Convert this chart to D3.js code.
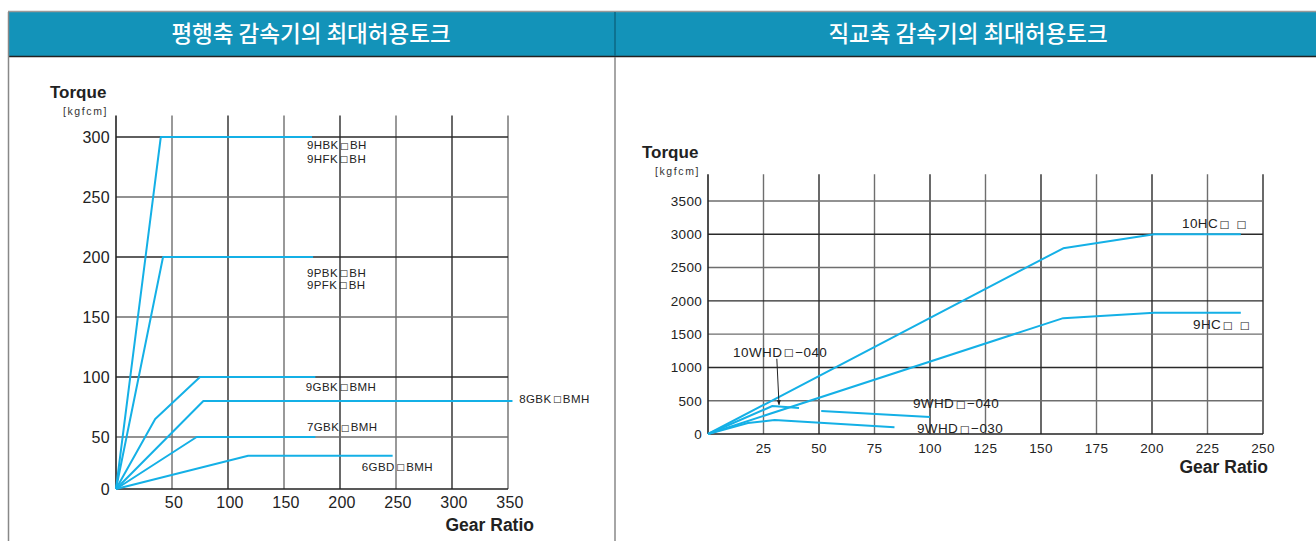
<!DOCTYPE html>
<html>
<head>
<meta charset="utf-8">
<script src="https://cdn.jsdelivr.net/npm/d3@7"></script>
<style>
    body { margin: 0; background: #fff; }
    svg { display: block; font-family: "Liberation Sans", Arial, sans-serif; }
</style>
</head>
<body>
<svg class="chart"></svg>
<script>
const width = 1316,
    height = 541;

//Titles
const titles = ["평행축 감속기의 최대허용토크", "직교축 감속기의 최대허용토크"];

//Parallel shaft: ticks
const leftXTicks = [50, 100, 150, 200, 250, 300, 350];
const leftYTicks = [0, 50, 100, 150, 200, 250, 300];

//Parallel shaft: series [gear ratio, torque]
const s9HBK = [[0, 0], [40, 300], [175, 300]];
const s9PBK = [[0, 0], [42, 200], [176, 200]];
const s9GBK = [[0, 0], [35, 65], [75, 100], [178, 100]];
const s8GBK = [[0, 0], [78, 80], [354, 80]];
const s7GBK = [[0, 0], [72, 50], [178, 50]];
const s6GBD = [[0, 0], [118, 32], [247, 32]];

//Parallel shaft: labels [gear ratio, torque, text]
const leftLabels = [
    [170.5, 290, "9HBK□BH"],
    [170.5, 278.5, "9HFK□BH"],
    [170.5, 183.5, "9PBK□BH"],
    [170.5, 173.5, "9PFK□BH"],
    [169.5, 88.5, "9GBK□BMH"],
    [360, 78.5, "8GBK□BMH"],
    [170.5, 55, "7GBK□BMH"],
    [219.5, 17.5, "6GBD□BMH"],
];

//Right angle: ticks
const rightXTicks = [25, 50, 75, 100, 125, 150, 175, 200, 225, 250];
const rightYTicks = [0, 500, 1000, 1500, 2000, 2500, 3000, 3500];

//Right angle: series
const s10HC = [[0, 0], [160, 2790], [201, 3000], [240, 3000]];
const s9HC = [[0, 0], [160, 1740], [201, 1820], [240, 1820]];
const s10WHD040 = [[0, 0], [29, 420], [41, 390]];
const s9WHD040 = [[51, 345], [100, 255]];
const s9WHD030 = [[0, 0], [18, 165], [30, 210], [84, 100]];

const rightLabels = [
    [213.5, 3094, "10HC□ □"],
    [218.5, 1577, "9HC□ □"],
    [11.3, 1157, "10WHD□−040"],
    [92.3, 390, "9WHD□−040"],
    [94.1, 15, "9WHD□−030"],
];

//arrow for 10WHD label [from, to]
const arrow10WHD = [[31, 1130], [32, 440]];

const lineColor = "#14b0e6";
const headerColor = "#1393b9";

const svg = d3.select(".chart").attr("width", width).attr("height", height);

svg.append("defs")
    .append("marker")
    .attr("id", "arrowHead")
    .attr("viewBox", "0 0 10 10")
    .attr("refX", 9)
    .attr("refY", 5)
    .attr("markerWidth", 5)
    .attr("markerHeight", 6)
    .attr("orient", "auto")
    .append("path")
    .attr("d", "M0,1 L10,5 L0,9 Z")
    .attr("fill", "#222");

//Frame & headers
svg.append("rect")
    .attr("x", 8).attr("y", 12)
    .attr("width", width - 8).attr("height", 44)
    .attr("fill", headerColor);

svg.append("line")
    .attr("x1", 8).attr("x2", width).attr("y1", 11.5).attr("y2", 11.5)
    .attr("stroke", "#999").attr("stroke-width", 1.5);
svg.append("line")
    .attr("x1", 8).attr("x2", width).attr("y1", 56.5).attr("y2", 56.5)
    .attr("stroke", "#222").attr("stroke-width", 1.6);
svg.append("line")
    .attr("x1", 8.5).attr("x2", 8.5).attr("y1", 12).attr("y2", height)
    .attr("stroke", "#888").attr("stroke-width", 1.5);
svg.append("line")
    .attr("x1", 615).attr("x2", 615).attr("y1", 12).attr("y2", 56)
    .attr("stroke", "#0c6784").attr("stroke-width", 1.5);
svg.append("line")
    .attr("x1", 615).attr("x2", 615).attr("y1", 57).attr("y2", height)
    .attr("stroke", "#888").attr("stroke-width", 1.5);

svg.selectAll(".title")
    .data(titles)
    .enter()
    .append("text")
    .attr("class", "title")
    .attr("x", function (d, i) {
        return i === 0 ? 311 : 968;
    })
    .attr("y", 42)
    .attr("text-anchor", "middle")
    .attr("fill", "#fff")
    .style("font-family", "'Noto Sans CJK KR', sans-serif")
    .style("font-size", "22.5px")
    .style("font-weight", 500)
    .text(function (d) {
        return d;
    });

function drawChart(opt) {
    const g = svg.append("g");
    const x = opt.x,
        y = opt.y;
    const x0 = x.range()[0],
        x1 = x.range()[x.range().length - 1],
        yBottom = y(0),
        yTop = y(opt.gridTop);

    //grid
    g.selectAll(".vgrid")
        .data(opt.xTicks)
        .enter()
        .append("line")
        .attr("x1", function (d) { return x(d); })
        .attr("x2", function (d) { return x(d); })
        .attr("y1", yTop)
        .attr("y2", yBottom)
        .attr("stroke", function (d, i) {
            return i % 2 === 0 ? "#6e6e6e" : "#2a2a2a";
        })
        .attr("stroke-width", 1.4);

    g.selectAll(".hgrid")
        .data(opt.yTicks.filter(function (d) { return d > 0; }))
        .enter()
        .append("line")
        .attr("x1", x0)
        .attr("x2", x1)
        .attr("y1", function (d) { return y(d); })
        .attr("y2", function (d) { return y(d); })
        .attr("stroke", function (d, i) {
            return i % 2 === 0 ? "#6e6e6e" : "#2a2a2a";
        })
        .attr("stroke-width", 1.4);

    g.append("line")
        .attr("x1", x0).attr("x2", x0).attr("y1", yTop).attr("y2", yBottom)
        .attr("stroke", "#222").attr("stroke-width", 1.6);
    g.append("line")
        .attr("x1", x0).attr("x2", x1).attr("y1", yBottom).attr("y2", yBottom)
        .attr("stroke", "#222").attr("stroke-width", 1.6);

    //tick labels
    g.selectAll(".ytick")
        .data(opt.yTicks)
        .enter()
        .append("text")
        .attr("x", x0 - 6)
        .attr("y", function (d) { return y(d); })
        .attr("dy", "0.36em")
        .attr("text-anchor", "end")
        .attr("fill", "#222")
        .style("font-size", opt.tickSize)
        .style("letter-spacing", "0.3px")
        .text(function (d) { return d; });

    g.selectAll(".xtick")
        .data(opt.xTicks)
        .enter()
        .append("text")
        .attr("x", function (d) { return x(d) + opt.xTickShift; })
        .attr("y", yBottom + opt.xTickGap)
        .attr("text-anchor", "middle")
        .attr("fill", "#222")
        .style("font-size", opt.tickSize)
        .style("letter-spacing", "0.3px")
        .text(function (d) { return d; });

    //axis titles
    g.append("text")
        .attr("x", opt.torqueX)
        .attr("y", opt.torqueY)
        .attr("fill", "#222")
        .style("font-size", "17px")
        .style("font-weight", "bold")
        .text("Torque");
    g.append("text")
        .attr("x", opt.torqueX + 13)
        .attr("y", opt.torqueY + 17)
        .attr("fill", "#333")
        .style("font-size", "10.5px")
        .style("letter-spacing", "1.6px")
        .text("[kgfcm]");
    g.append("text")
        .attr("x", x1 + opt.gearShift)
        .attr("y", yBottom + opt.gearGap)
        .attr("text-anchor", "end")
        .attr("fill", "#222")
        .style("font-size", "17.5px")
        .style("font-weight", "bold")
        .text("Gear Ratio");

    //series
    const line = d3.line()
        .x(function (d) { return x(d[0]); })
        .y(function (d) { return y(d[1]); });

    g.selectAll(".series")
        .data(opt.series)
        .enter()
        .append("path")
        .attr("d", line)
        .attr("fill", "none")
        .attr("stroke", lineColor)
        .attr("stroke-width", 2)
        .attr("stroke-linejoin", "round");

    //labels, square glyph drawn smaller with a little room
    const labels = g.selectAll(".label")
        .data(opt.labels)
        .enter()
        .append("text")
        .attr("x", function (d) { return x(d[0]); })
        .attr("y", function (d) { return y(d[1]); })
        .attr("fill", "#222")
        .style("font-size", opt.labelSize)
        .style("letter-spacing", "0.4px");

    labels.each(function (d) {
        const t = d3.select(this);
        let afterSquare = false;
        d[2].split(/(□)/).forEach(function (part) {
            if (!part) return;
            const sp = t.append("tspan").text(part);
            if (part === "□") {
                sp.attr("dx", 1.5)
                    .attr("dy", -0.5)
                    .style("font-size", "0.78em")
                    .style("font-family", "'DejaVu Sans', sans-serif");
                afterSquare = true;
            } else if (afterSquare) {
                sp.attr("dx", 1).attr("dy", 0.5);
                afterSquare = false;
            }
        });
    });

    return g;
}

const xLeft = d3.scaleLinear().domain([0, 350]).range([116, 508]);
const yLeft = d3.scaleLinear().domain([0, 50, 300]).range([489, 437, 137]);

drawChart({
    x: xLeft,
    y: yLeft,
    gridTop: 318,
    xTicks: leftXTicks,
    yTicks: leftYTicks,
    tickSize: "16px",
    xTickShift: 2,
    xTickGap: 19,
    torqueX: 50,
    torqueY: 98,
    gearShift: 26,
    gearGap: 42,
    series: [s9HBK, s9PBK, s9GBK, s8GBK, s7GBK, s6GBD],
    labels: leftLabels,
    labelSize: "11.5px",
});

const xRight = d3.scaleLinear().domain([0, 250]).range([708, 1263]);
const yRight = d3.scaleLinear().domain([0, 3500]).range([434, 201]);

const right = drawChart({
    x: xRight,
    y: yRight,
    gridTop: 3900,
    xTicks: rightXTicks,
    yTicks: rightYTicks,
    tickSize: "13.5px",
    xTickShift: 0,
    xTickGap: 19,
    torqueX: 642,
    torqueY: 158,
    gearShift: 5,
    gearGap: 39,
    series: [s10HC, s9HC, s10WHD040, s9WHD040, s9WHD030],
    labels: rightLabels,
    labelSize: "13.5px",
});

right.append("line")
    .attr("x1", xRight(arrow10WHD[0][0]))
    .attr("y1", yRight(arrow10WHD[0][1]))
    .attr("x2", xRight(arrow10WHD[1][0]))
    .attr("y2", yRight(arrow10WHD[1][1]))
    .attr("stroke", "#222")
    .attr("stroke-width", 1)
    .attr("marker-end", "url(#arrowHead)");
</script>
</body>
</html>
